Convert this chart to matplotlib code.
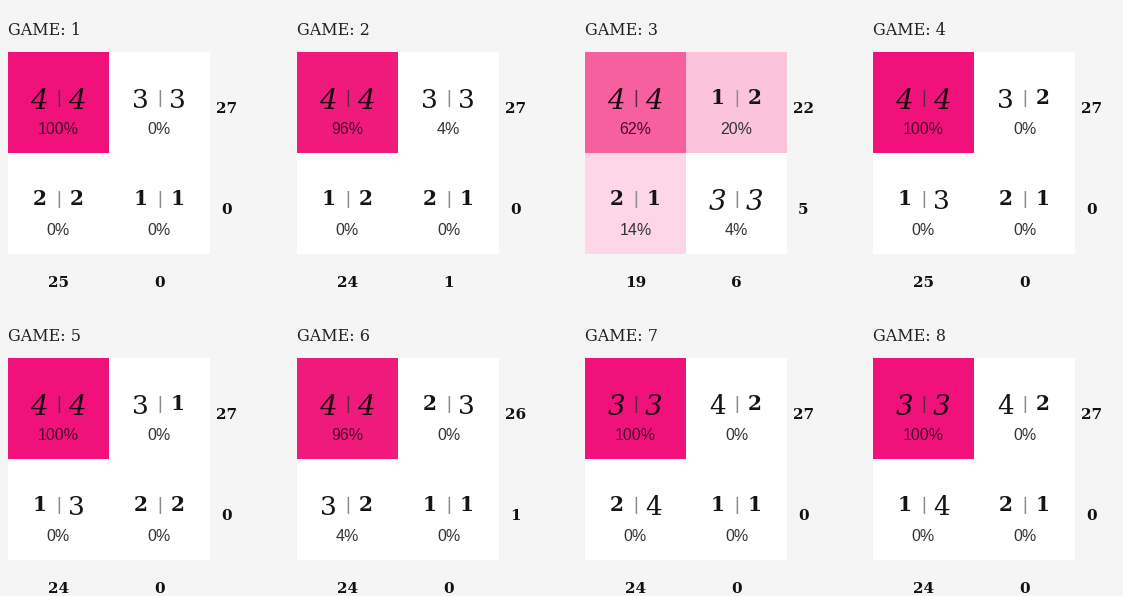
import numpy as np
import matplotlib
matplotlib.use("Agg")
import matplotlib.pyplot as plt
from matplotlib.colors import LinearSegmentedColormap

# ---------------- data ----------------
games = [1, 2, 3, 4, 5, 6, 7, 8]
# payoffs per cell: top-left, top-right, bottom-left, bottom-right
payoffs = [
    ["4|4", "3|3", "2|2", "1|1"],
    ["4|4", "3|3", "1|2", "2|1"],
    ["4|4", "1|2", "2|1", "3|3"],
    ["4|4", "3|2", "1|3", "2|1"],
    ["4|4", "3|1", "1|3", "2|2"],
    ["4|4", "2|3", "3|2", "1|1"],
    ["3|3", "4|2", "2|4", "1|1"],
    ["3|3", "4|2", "1|4", "2|1"],
]
# equilibrium cells (shown in italics)
equilibria = [
    [1, 0, 0, 0],
    [1, 0, 0, 0],
    [1, 0, 0, 1],
    [1, 0, 0, 0],
    [1, 0, 0, 0],
    [1, 0, 0, 0],
    [1, 0, 0, 0],
    [1, 0, 0, 0],
]
percents = [
    [100, 0, 0, 0],
    [96, 4, 0, 0],
    [62, 20, 14, 4],
    [100, 0, 0, 0],
    [100, 0, 0, 0],
    [96, 0, 4, 0],
    [100, 0, 0, 0],
    [100, 0, 0, 0],
]
row_totals = [[27, 0], [27, 0], [22, 5], [27, 0], [27, 0], [26, 1], [27, 0], [27, 0]]
col_totals = [[25, 0], [24, 1], [19, 6], [25, 0], [24, 0], [24, 0], [24, 0], [24, 0]]

# ---------------- style ----------------
W, H = 1123, 596
BG = "#f5f5f5"
cmap = LinearSegmentedColormap.from_list(
    "pinks",
    [(0.0, "#ffffff"), (0.05, "#ffffff"), (0.14, "#fdd5e7"), (0.20, "#fcc3dd"),
     (0.62, "#f7609f"), (1.0, "#f0127a")],
)
col_lefts = [8, 297, 585, 873]
row_tops = [52, 358]
CELL = 101

fig = plt.figure(figsize=(W / 100, H / 100), dpi=100, facecolor=BG)

TALL = set("34579")


def draw_digit(ax, x, y, ch, italic, color):
    if italic:
        ax.text(x, y, ch, ha="center", va="top", fontsize=20, family="DejaVu Serif",
                style="italic", color=color)
    elif ch in TALL:
        ax.text(x, y, ch, ha="center", va="top", fontsize=19, family="DejaVu Serif",
                color="#151515")
    else:
        ax.text(x, y, ch, ha="center", va="top", fontsize=14.5, family="DejaVu Serif",
                weight="bold", color="#151515")


for i, g in enumerate(games):
    c, r = i % 4, i // 4
    x0, y0 = col_lefts[c], row_tops[r]
    ax = fig.add_axes([x0 / W, 1 - (y0 + 2 * CELL) / H, 2 * CELL / W, 2 * CELL / H])
    mat = np.array(percents[i]).reshape(2, 2)
    ax.imshow(mat, cmap=cmap, vmin=0, vmax=100, aspect="auto", interpolation="nearest")
    ax.set_xlim(-0.5, 1.5)
    ax.set_ylim(1.5, -0.5)
    ax.axis("off")

    ax.text(-0.5, -0.668, f"GAME: {g}", ha="left", va="baseline", fontsize=11.5,
            family="DejaVu Serif", color="#222222")

    for k in range(4):
        rr, cc = k // 2, k % 2
        a, b = payoffs[i][k].split("|")
        pct = percents[i][k]
        eq = bool(equilibria[i][k])
        dark = pct >= 50
        tcol = "#1e0410" if dark else "#151515"
        ytop = rr - 0.14
        draw_digit(ax, cc - 0.19, ytop, a, eq, tcol)
        draw_digit(ax, cc + 0.18, ytop, b, eq, tcol)
        ax.text(cc, ytop + 0.02, "|", ha="center", va="top", fontsize=13,
                family="Liberation Sans", color="#5a2a40" if dark else "#8a8a8a")
        ax.text(cc, rr + 0.31, f"{pct}%", ha="center", va="baseline", fontsize=11.5,
                family="Liberation Sans", color="#4a0a28" if dark else "#333333")

    for rr in range(2):
        ax.text(1.66, rr + 0.1, str(row_totals[i][rr]), ha="center", va="baseline",
                fontsize=11, family="DejaVu Serif", weight="bold", color="#111111")
    for cc in range(2):
        ax.text(cc, 1.83, str(col_totals[i][cc]), ha="center", va="baseline",
                fontsize=11, family="DejaVu Serif", weight="bold", color="#111111")

fig.savefig("out.png", dpi=100, facecolor=BG)
